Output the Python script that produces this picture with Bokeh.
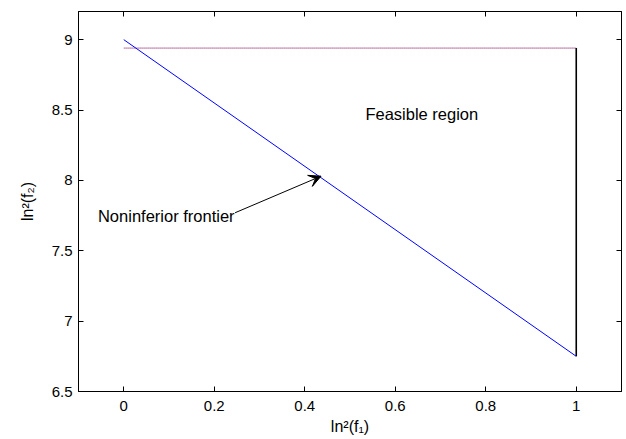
from bokeh.plotting import figure
from bokeh.models import Range1d, LinearAxis, FixedTicker, PrintfTickFormatter, Arrow, VeeHead, Label
from bokeh.embed import file_html
from bokeh.resources import INLINE

# ---- data ----
frontier_x = [0.0, 1.0]
frontier_y = [9.0, 6.75]
bound_x = [0.0, 1.0]
bound_y = [8.94, 8.94]
side_x = [1.0, 1.0]
side_y = [8.94, 6.75]
x_ticks = [0, 0.2, 0.4, 0.6, 0.8, 1]
y_ticks = [6.5, 7, 7.5, 8, 8.5, 9]
arrow_start = (0.246, 7.77)
arrow_end = (0.436, 8.03)
label_frontier = "Noninferior frontier"
label_frontier_pos = (-0.057, 7.75)
label_region = "Feasible region"
label_region_pos = (0.534, 8.47)
x_label = "ln\u00b2(f\u2081)"
y_label = "ln\u00b2(f\u2082)"

FONT = "Liberation Sans"

p = figure(width=623, height=437, x_range=Range1d(-0.1, 1.1), y_range=Range1d(6.5, 9.2),
           output_backend="svg", toolbar_location=None,
           min_border_left=78, min_border_right=2, min_border_top=11, min_border_bottom=0,
           background_fill_color="white", border_fill_color="white")
p.xgrid.visible = False
p.ygrid.visible = False
p.outline_line_color = "black"
p.outline_line_width = 1

def style_axis(ax, ticks):
    ax.ticker = FixedTicker(ticks=ticks)
    ax.formatter = PrintfTickFormatter(format="%g")
    ax.major_tick_in = 5
    ax.major_tick_out = 0
    ax.minor_tick_line_color = None
    ax.axis_line_color = "black"
    ax.major_tick_line_color = "black"
    ax.major_label_text_font = FONT
    ax.major_label_text_font_size = "15px"
    ax.major_label_text_color = "black"
    ax.axis_label_text_font = FONT
    ax.axis_label_text_font_size = "16px"
    ax.axis_label_text_font_style = "normal"
    ax.axis_label_text_color = "black"

def mirror_axis(ticks):
    ax = LinearAxis(ticker=FixedTicker(ticks=[], minor_ticks=ticks))
    ax.major_tick_line_color = None
    ax.minor_tick_in = 5
    ax.minor_tick_out = 0
    ax.minor_tick_line_color = "black"
    ax.axis_line_color = "black"
    ax.major_label_standoff = 0
    return ax

style_axis(p.xaxis[0], x_ticks)
p.xaxis[0].axis_label = x_label
p.xaxis[0].major_label_standoff = 9
p.xaxis[0].axis_label_standoff = 4
style_axis(p.yaxis[0], y_ticks)
p.yaxis[0].axis_label = y_label
p.yaxis[0].major_label_standoff = 6
p.yaxis[0].axis_label_standoff = 13

p.add_layout(mirror_axis(x_ticks), "above")
p.add_layout(mirror_axis(y_ticks), "right")

# boundary lines (alternating blue / red dots)
p.line(bound_x, bound_y, line_color="#5a5aff", line_width=1, line_dash="1 1")
p.line(bound_x, bound_y, line_color="#ff6a4a", line_width=1, line_dash="1 1", line_dash_offset=1)
p.line(side_x, side_y, line_color="black", line_width=1.6)
p.line(frontier_x, frontier_y, line_color="#0000ff", line_width=1)

p.add_layout(Arrow(end=VeeHead(size=12, fill_color="black", line_color="black"),
                   x_start=arrow_start[0], y_start=arrow_start[1],
                   x_end=arrow_end[0], y_end=arrow_end[1],
                   line_color="black", line_width=1))

p.add_layout(Label(x=label_frontier_pos[0], y=label_frontier_pos[1], text=label_frontier,
                   text_font=FONT, text_font_size="16.5px", text_baseline="middle",
                   text_color="black"))
p.add_layout(Label(x=label_region_pos[0], y=label_region_pos[1], text=label_region,
                   text_font=FONT, text_font_size="16.5px", text_baseline="middle",
                   text_color="black"))

open("out.html", "w").write(file_html(p, INLINE))
